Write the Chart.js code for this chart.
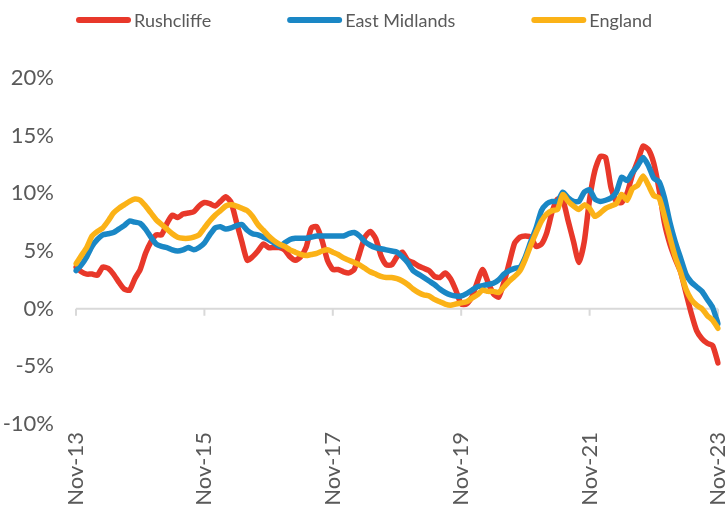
<!DOCTYPE html>
<html>
<head>
<meta charset="utf-8">
<script src="https://cdn.jsdelivr.net/npm/chart.js@4.4.1/dist/chart.umd.min.js"></script>
<style>
  html, body { margin: 0; padding: 0; background: #fff; }
</style>
</head>
<body>
<canvas id="chart" width="726" height="511"></canvas>
<script>
// Monthly annual change in house prices, Nov-13 to Nov-23
var monthNames = ['Jan', 'Feb', 'Mar', 'Apr', 'May', 'Jun', 'Jul', 'Aug', 'Sep', 'Oct', 'Nov', 'Dec'];
var months = [];
for (var i = 0; i < 121; i++) {
    months.push(monthNames[(10 + i) % 12] + '-' + (13 + Math.floor((10 + i) / 12)));
}

var seriesNames = ['Rushcliffe', 'East Midlands', 'England'];
var seriesColors = ['#E8382A', '#1A87C5', '#FBB217'];

var rushcliffe = [
    3.6, 3.2, 3.0, 3.0, 2.9, 3.6, 3.5, 3.0, 2.3, 1.7, 1.6, 2.6,
    3.4, 4.8, 5.8, 6.4, 6.4, 7.4, 8.1, 7.9, 8.2, 8.3, 8.4, 8.9,
    9.2, 9.1, 8.9, 9.3, 9.7, 9.2, 7.5, 5.8, 4.2, 4.5, 5.0, 5.6,
    5.3, 5.3, 5.3, 5.1, 4.5, 4.2, 4.5, 5.3, 7.0, 7.1, 5.9, 4.2,
    3.4, 3.4, 3.2, 3.1, 3.4, 4.8, 6.2, 6.7, 6.1, 4.6, 3.8, 3.8,
    4.5, 4.9, 4.2, 4.0, 3.7, 3.5, 3.3, 2.8, 2.7, 3.1, 2.6, 1.6,
    0.4, 0.4, 1.0, 2.3, 3.4, 2.3, 1.3, 1.0, 2.3, 4.0, 5.7, 6.2,
    6.3, 6.2, 5.4, 5.6, 6.6, 8.4, 9.5, 9.4, 7.6, 5.8, 4.0, 5.8,
    9.5, 12.0, 13.2, 13.1, 10.5, 9.3, 9.2, 10.0, 11.6, 12.8, 14.1, 13.8,
    12.6, 10.3, 7.4, 5.6, 4.3, 3.2, 1.4, -0.4, -1.9, -2.6, -3.0, -3.2,
    -4.7
];

var eastMidlands = [
    3.3, 3.8, 4.5, 5.4, 6.0, 6.4, 6.5, 6.6, 6.9, 7.2, 7.6, 7.5,
    7.4, 6.9, 6.2, 5.6, 5.4, 5.3, 5.1, 5.0, 5.1, 5.3, 5.1, 5.3,
    5.7, 6.4, 7.0, 7.1, 6.9, 7.0, 7.2, 7.3, 6.8, 6.5, 6.4, 6.2,
    6.0, 5.7, 5.4, 5.7, 6.0, 6.1, 6.1, 6.1, 6.2, 6.3, 6.3, 6.3,
    6.3, 6.3, 6.3, 6.5, 6.6, 6.3, 5.8, 5.5, 5.3, 5.2, 5.1, 5.0,
    4.9, 4.5, 4.0, 3.3, 3.0, 2.7, 2.4, 2.1, 1.7, 1.4, 1.2, 1.1,
    1.1, 1.3, 1.6, 1.9, 2.0, 2.1, 2.2, 2.5, 3.0, 3.3, 3.5, 3.6,
    4.5, 5.8, 7.0, 8.5, 9.1, 9.3, 9.3, 10.1, 9.6, 9.3, 9.3, 10.1,
    10.3, 9.5, 9.3, 9.4, 9.6, 10.1, 11.4, 11.1, 11.8, 12.4, 13.1, 12.4,
    11.3, 11.0, 9.6, 7.5, 5.8, 4.4, 3.0, 2.3, 1.9, 1.5, 0.8, 0.1,
    -1.3
];

var england = [
    3.9, 4.6, 5.3, 6.3, 6.7, 7.0, 7.6, 8.3, 8.7, 9.0, 9.3, 9.5,
    9.4, 8.9, 8.3, 7.7, 7.3, 6.9, 6.5, 6.2, 6.1, 6.1, 6.2, 6.4,
    7.0, 7.6, 8.1, 8.5, 8.9, 9.0, 8.9, 8.7, 8.5, 8.0, 7.3, 6.8,
    6.3, 5.9, 5.6, 5.4, 5.1, 4.9, 4.7, 4.6, 4.7, 4.8, 5.0, 5.1,
    4.9, 4.7, 4.4, 4.2, 4.0, 3.8, 3.5, 3.2, 3.0, 2.8, 2.7, 2.7,
    2.6, 2.4, 2.1, 1.7, 1.4, 1.2, 1.1, 0.8, 0.6, 0.4, 0.3, 0.4,
    0.5, 0.6, 0.9, 1.2, 1.6, 1.5, 1.5, 1.4, 1.9, 2.4, 2.8, 3.3,
    4.3, 5.5, 6.6, 7.6, 8.2, 8.5, 8.6, 9.9, 9.3, 8.9, 8.6, 9.0,
    8.7, 8.0, 8.3, 8.7, 8.9, 9.1, 9.9, 9.4, 10.4, 10.7, 11.5, 10.7,
    9.8, 9.6, 8.0, 6.2, 4.5, 3.2, 1.7, 0.8, 0.3, 0.0, -0.6, -1.0,
    -1.7
];

var allSeries = [rushcliffe, eastMidlands, england];
var yTicks = [-10, -5, 0, 5, 10, 15, 20];

var textColor = '#595959';
var axisColor = '#D9D9D9';

// zero line with the small tick marks below it
var zeroAxis = {
    id: 'zeroAxis',
    beforeDatasetsDraw: function(chart) {
        var ctx = chart.ctx;
        var area = chart.chartArea;
        var xs = chart.scales.x;
        var y0 = chart.scales.y.getPixelForValue(0);
        ctx.save();
        ctx.strokeStyle = axisColor;
        ctx.lineWidth = 2;
        ctx.beginPath();
        ctx.moveTo(area.left, y0);
        ctx.lineTo(area.right, y0);
        for (var k = 0; k < months.length; k += 24) {
            var px = xs.getPixelForValue(k);
            ctx.moveTo(px, y0);
            ctx.lineTo(px, y0 + 7);
        }
        ctx.stroke();
        ctx.restore();
    }
};

// legend drawn by hand so the spacing matches
var lineLegend = {
    id: 'lineLegend',
    afterDraw: function(chart) {
        var ctx = chart.ctx;
        var x = chart.chartArea.left;
        var y = 20;
        ctx.save();
        ctx.font = '18px Lato';
        ctx.textBaseline = 'middle';
        chart.data.datasets.forEach(function(ds) {
            ctx.strokeStyle = ds.borderColor;
            ctx.lineWidth = 6;
            ctx.lineCap = 'round';
            ctx.beginPath();
            ctx.moveTo(x + 3, y);
            ctx.lineTo(x + 52, y);
            ctx.stroke();
            ctx.fillStyle = textColor;
            ctx.fillText(ds.label, x + 58, y + 1);
            x += 58 + ctx.measureText(ds.label).width + 76;
        });
        ctx.restore();
    }
};

var datasets = allSeries.map(function(values, n) {
    return {
        label: seriesNames[n],
        data: values,
        borderColor: seriesColors[n],
        backgroundColor: seriesColors[n],
        borderWidth: 5.5,
        pointRadius: 0,
        tension: 0.2,
        borderJoinStyle: 'round',
        borderCapStyle: 'round',
        order: 3 - n
    };
});

new Chart(document.getElementById('chart').getContext('2d'), {
    type: 'line',
    data: { labels: months, datasets: datasets },
    options: {
        responsive: false,
        animation: false,
        layout: { padding: { top: 78, left: 0, right: 0, bottom: 0 } },
        plugins: {
            legend: { display: false },
            tooltip: { enabled: false }
        },
        scales: {
            x: {
                grid: { display: false, drawTicks: false },
                border: { display: false },
                ticks: {
                    autoSkip: false,
                    minRotation: 90,
                    maxRotation: 90,
                    padding: 8,
                    color: textColor,
                    font: { family: 'Lato', size: 22 },
                    callback: function(val, idx) {
                        return idx % 24 === 0 ? months[idx] : '';
                    }
                },
                afterFit: function(scale) {
                    scale.height = 87;
                    scale.paddingLeft = 0;
                    scale.paddingRight = 8;
                }
            },
            y: {
                min: yTicks[0],
                max: yTicks[yTicks.length - 1],
                grid: { display: false, drawTicks: false },
                border: { display: false },
                afterBuildTicks: function(scale) {
                    scale.ticks = yTicks.map(function(v) { return { value: v }; });
                },
                ticks: {
                    padding: 22,
                    color: textColor,
                    font: { family: 'Lato', size: 22 },
                    callback: function(v) { return v + '%'; }
                },
                afterFit: function(scale) { scale.width = 76; }
            }
        }
    },
    plugins: [zeroAxis, lineLegend]
});
</script>
</body>
</html>
